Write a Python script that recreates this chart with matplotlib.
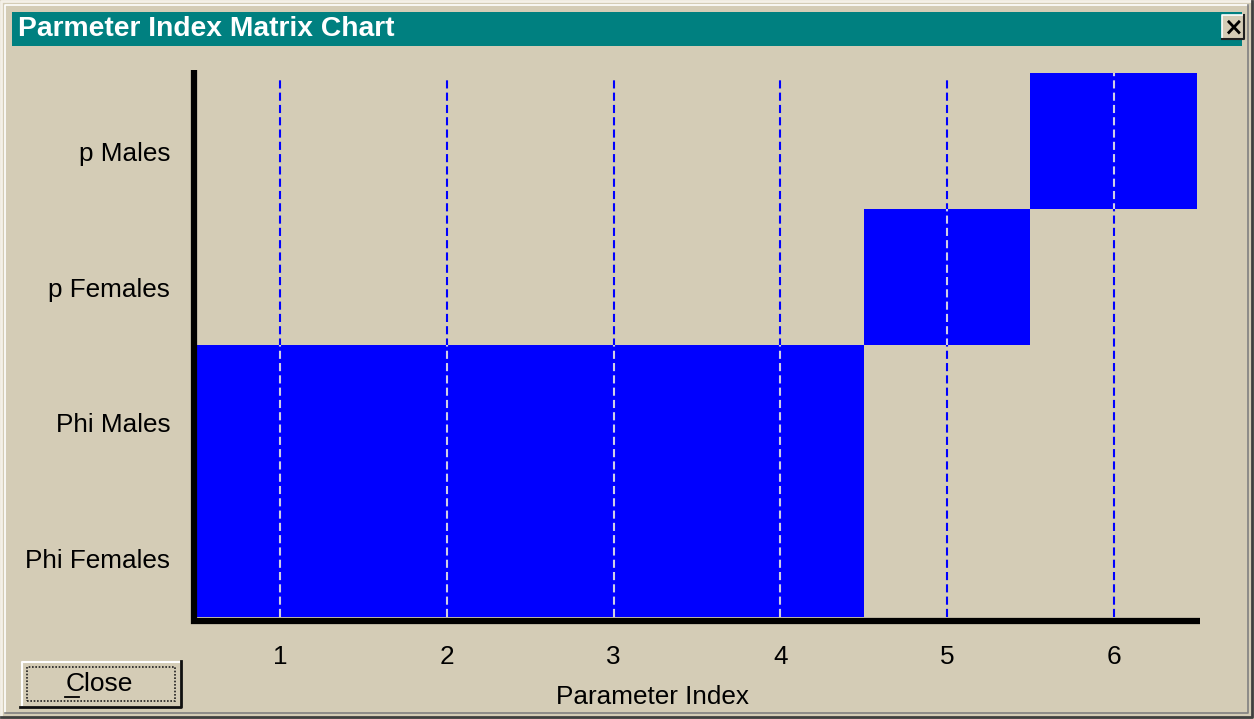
import matplotlib
matplotlib.use("Agg")
import matplotlib.pyplot as plt
from matplotlib.patches import Rectangle
from matplotlib.lines import Line2D
from matplotlib.transforms import ScaledTranslation

# data
groups = ["Phi Females", "Phi Males", "p Females", "p Males"]
index_start = [1, 1, 5, 6]
index_end = [4, 4, 5, 6]
param_ticks = [1, 2, 3, 4, 5, 6]

title = "Parmeter Index Matrix Chart"
xlabel = "Parameter Index"

BG = "#d4ccb6"
TEAL = "#008080"
BLUE = "#0000ff"
W, H = 1254, 719

plt.rcParams["font.family"] = ["Liberation Sans", "DejaVu Sans"]

fig = plt.figure(figsize=(W / 100, H / 100), dpi=100, facecolor=BG)


def px(x0, y0, w, h):
    """pixel box (top-left origin) -> figure fraction rect args"""
    return (x0 / W, 1 - (y0 + h) / H), w / W, h / H


def fig_line(x, y, color, lw=1.5, **kw):
    fig.add_artist(Line2D([v / W for v in x], [1 - v / H for v in y],
                          color=color, lw=lw, transform=fig.transFigure, **kw))


# window frame
fig_line([1, 1, W - 2], [H - 2, 1, 1], "#f4f0e8", lw=2)
fig_line([1, W - 2, W - 2], [H - 2, H - 2, 1], "#404040", lw=2)
fig_line([5, 5, W - 6], [H - 6, 5, 5], "#ffffff", lw=1.2)
fig_line([5, W - 6, W - 6], [H - 6, H - 6, 5], "#808080", lw=1.2)

# title bar
xy, w, h = px(12, 12, W - 24, 34)
fig.add_artist(Rectangle(xy, w, h, transform=fig.transFigure, facecolor=TEAL,
                         edgecolor="none"))
fig.text(18 / W, 1 - 29 / H, title, color="white", fontsize=20.3,
         fontweight="bold", va="center", ha="left")

# small close box in the title bar
xy, w, h = px(1222, 15, 22, 24)
fig.add_artist(Rectangle(xy, w, h, transform=fig.transFigure, facecolor=BG,
                         edgecolor="none"))
fig_line([1222, 1222, 1244], [39, 15, 15], "#ffffff", lw=1.2)
fig_line([1222, 1244, 1244], [39, 39, 15], "#202020", lw=1.5)
fig.text(1233 / W, 1 - 27 / H, "×", color="black", fontsize=17,
         fontweight="bold", ha="center", va="center", family="DejaVu Sans")

# Close button
xy, w, h = px(22, 662, 158, 44)
fig.add_artist(Rectangle(xy, w, h, transform=fig.transFigure, facecolor=BG,
                         edgecolor="none"))
fig_line([22, 22, 179], [705, 662, 662], "#ffffff", lw=1.5)
fig_line([20, 181, 181], [707, 707, 661], "#101010", lw=2)
xy, w, h = px(27, 667, 148, 34)
fig.add_artist(Rectangle(xy, w, h, transform=fig.transFigure, facecolor="none",
                         edgecolor="#202020", lw=1.2, ls=(0, (1, 1))))
fig.text(99 / W, 1 - 684 / H, "Close", fontsize=19, ha="center",
         va="center", color="black")
fig_line([65, 79], [697, 697], "black", lw=1.3)

# chart area
ax = fig.add_axes([197 / W, 1 - 617 / H, (1197 - 197) / W, (617 - 73) / H])
ax.patch.set_visible(False)
ax.set_xlim(0.5, 6.5)
ax.set_ylim(0, len(groups))

rows = list(range(len(groups)))
widths = [e - s + 1 for s, e in zip(index_start, index_end)]
lefts = [s - 0.5 for s in index_start]
bars = ax.barh([r + 0.5 for r in rows], widths, left=lefts, height=1.0,
               color=BLUE, edgecolor="none", zorder=2)

dash = (0, (3.9, 2.0))
for t in param_ticks:
    ax.axvline(t, ymax=0.99, color=BLUE, lw=1.5, ls=dash, zorder=1)
for bar, s, e in zip(bars, index_start, index_end):
    for t in param_ticks:
        if s <= t <= e:
            ln = ax.axvline(t, color="#cfcde6", lw=1.5, ls=dash, zorder=3)
            ln.set_clip_path(bar)

# thick L-shaped axis lines, sitting just outside the plotting area
for side in ax.spines:
    ax.spines[side].set_visible(False)
shift = ScaledTranslation(-3 / 100, -3.5 / 100, fig.dpi_scale_trans)
ax.plot([0, 0, 1.006], [1.012, 0, 0], color="black", lw=4.5,
        solid_joinstyle="miter", solid_capstyle="butt",
        transform=ax.transAxes + shift, clip_on=False, zorder=5)

ax.set_xticks(param_ticks)
ax.set_xticklabels([str(t) for t in param_ticks])
ax.set_yticks([r + 0.5 for r in rows])
ax.set_yticklabels(groups)
ax.tick_params(axis="both", length=0, labelsize=18.8, colors="black")
ax.tick_params(axis="x", pad=20)
ax.tick_params(axis="y", pad=19.2)
off = ScaledTranslation(0, -10 / 100, fig.dpi_scale_trans)
for lab in ax.get_yticklabels():
    lab.set_transform(lab.get_transform() + off)

ax.set_xlabel(xlabel, fontsize=18.8, labelpad=12, x=0.456)

fig.savefig("out.png", dpi=100, facecolor=BG)
